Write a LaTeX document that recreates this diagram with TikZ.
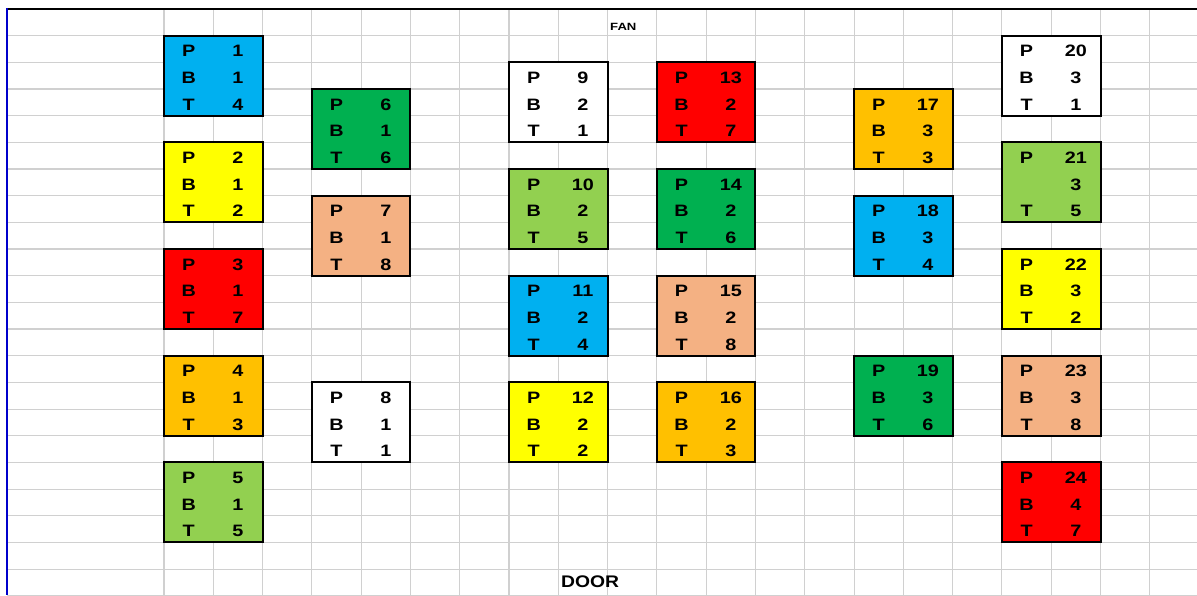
\documentclass[tikz,border=0pt]{standalone}
\usepackage{fontspec}
\setmainfont{Liberation Sans}
\usepackage{graphicx}
\definecolor{sblue}{HTML}{00B0F0}
\definecolor{syellow}{HTML}{FFFF00}
\definecolor{sred}{HTML}{FF0000}
\definecolor{sorange}{HTML}{FFC000}
\definecolor{slgreen}{HTML}{92D050}
\definecolor{sdgreen}{HTML}{00B050}
\definecolor{speach}{HTML}{F4B183}
\definecolor{gridgray}{HTML}{D0D0D0}
\definecolor{edgeblue}{HTML}{0000CC}
\newcommand\hstr[1]{\scalebox{1.2}[1]{#1}}
\begin{document}
\begin{tikzpicture}[x=1pt,y=-1pt,
  gridline/.style={draw=gridgray, line width=1.1pt},
  seatbox/.style={draw=black, line width=2pt, minimum width=98.58pt, minimum height=80pt, anchor=north west, inner sep=0pt, outer sep=0pt},
  celltext/.style={anchor=base, inner sep=0pt, font=\fontsize{16.5}{18}\selectfont\bfseries},
  labeltext/.style={anchor=base west, inner sep=0pt}]
\useasboundingbox (0,0) rectangle (1197,595);
\fill[white] (0,0) rectangle (1197,595);
% grid
\foreach \k in {0,...,20} \draw[gridline] ({164+\k*49.29},9) -- ({164+\k*49.29},595);
\foreach \r in {1,...,22} \draw[gridline] (7,{9+\r*26.67}) -- (1197,{9+\r*26.67});
% sheet border
\draw[black, line width=2pt] (6,9) -- (1197,9);
\draw[edgeblue, line width=2.2pt] (7,8) -- (7,595);
% labels
\node[labeltext, font=\fontsize{10.5}{12}\selectfont\bfseries] (fan) at (610,30) {\scalebox{1.25}[1]{FAN}};
\node[labeltext, font=\fontsize{16.8}{19}\selectfont\bfseries] (door) at (561,587.3) {\scalebox{1.15}[1]{DOOR}};
% seats
\foreach \n/\c/\r/\col/\bl/\bv/\tv in {
  1/0/1/sblue/B/1/4, 2/0/5/syellow/B/1/2, 3/0/9/sred/B/1/7, 4/0/13/sorange/B/1/3, 5/0/17/slgreen/B/1/5,
  6/3/3/sdgreen/B/1/6, 7/3/7/speach/B/1/8, 8/3/14/white/B/1/1,
  9/7/2/white/B/2/1, 10/7/6/slgreen/B/2/5, 11/7/10/sblue/B/2/4, 12/7/14/syellow/B/2/2,
  13/10/2/sred/B/2/7, 14/10/6/sdgreen/B/2/6, 15/10/10/speach/B/2/8, 16/10/14/sorange/B/2/3,
  17/14/3/sorange/B/3/3, 18/14/7/sblue/B/3/4, 19/14/13/sdgreen/B/3/6,
  20/17/1/white/B/3/1, 21/17/5/slgreen//3/5, 22/17/9/syellow/B/3/2, 23/17/13/speach/B/3/8, 24/17/17/sred/B/4/7}
{
  \pgfmathsetmacro\xl{164+\c*49.29}
  \pgfmathsetmacro\yt{9+\r*26.67}
  \node[seatbox, fill=\col] (s\n) at (\xl,\yt) {};
  \node[celltext] (s\n-pl) at ({\xl+24.65},{\yt+26.67-5.5}) {\hstr{P}};
  \node[celltext] (s\n-pv) at ({\xl+73.9},{\yt+26.67-5.5}) {\hstr{\n}};
  \node[celltext] (s\n-bl) at ({\xl+24.65},{\yt+53.34-5.5}) {\hstr{\bl}};
  \node[celltext] (s\n-bv) at ({\xl+73.9},{\yt+53.34-5.5}) {\hstr{\bv}};
  \node[celltext] (s\n-tl) at ({\xl+24.65},{\yt+80-5.5}) {\hstr{T}};
  \node[celltext] (s\n-tv) at ({\xl+73.9},{\yt+80-5.5}) {\hstr{\tv}};
}
\end{tikzpicture}
\end{document}
